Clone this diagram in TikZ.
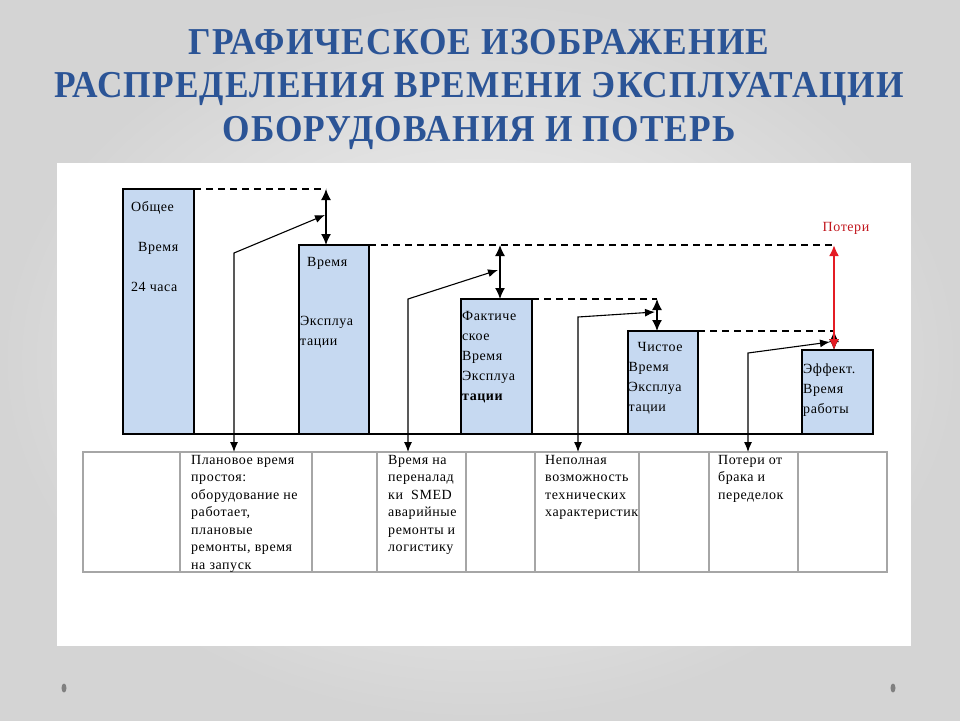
\documentclass[tikz,border=0pt]{standalone}
\usepackage{fontspec}
\setmainfont{Liberation Serif}
\newfontfamily\titlefont[FakeStretch=0.93,LetterSpace=3]{Liberation Serif}
\newfontfamily\diagfont[LetterSpace=4]{Liberation Serif}
\usetikzlibrary{arrows.meta,positioning,calc}

\definecolor{titleblue}{RGB}{43,84,150}
\definecolor{barblue}{RGB}{198,217,241}
\definecolor{gridgray}{RGB}{166,166,166}
\definecolor{lossred}{RGB}{228,28,36}
\definecolor{bgouter}{RGB}{212,212,212}
\definecolor{bginner}{RGB}{245,245,245}

\begin{document}
\begin{tikzpicture}[x=1pt, y=-1pt,
    bar/.style={rectangle, draw, line width=1.3pt, fill=barblue, anchor=south west, inner sep=0, outer sep=0},
    bartext/.style={inner sep=0, align=left, font=\diagfont\fontsize{14}{20}\selectfont},
    cell/.style={rectangle, draw=gridgray, line width=1.2pt, minimum height=120pt, anchor=north west, inner sep=0, outer sep=0},
    celltext/.style={inner sep=0, align=left, font=\diagfont\fontsize{14}{17.5}\selectfont},
    gap/.style={dash pattern=on 7pt off 5pt, line width=1.2pt},
    span/.style={{Latex[length=11pt,width=10pt]}-{Latex[length=11pt,width=10pt]}, line width=1.4pt},
    feed/.style={{Latex[length=10pt,width=8pt]}-{Latex[length=10pt,width=8pt]}, line width=1.1pt}]
    \useasboundingbox (0,0) rectangle (960,720);
    \shade[inner color=bginner, outer color=bgouter] (0,0) rectangle (960,720);
    \fill[white] (57,163) rectangle (911,646);
    \fill[black!50] (64,688) ellipse (2.5 and 4.5);
    \fill[black!50] (893,688) ellipse (2.5 and 4.5);

    % Title
    \node[font=\titlefont\bfseries\fontsize{38}{43.5}\selectfont, text=titleblue, align=center, inner sep=0, anchor=north] (title) at (479,29)
        {ГРАФИЧЕСКОЕ ИЗОБРАЖЕНИЕ\\РАСПРЕДЕЛЕНИЯ ВРЕМЕНИ ЭКСПЛУАТАЦИИ\\ОБОРУДОВАНИЯ И ПОТЕРЬ};

    % Time bars
    \node[bar, minimum width=71pt, minimum height=245pt] (total_time) at (123,434) {};
    \node[bar, minimum width=70pt, minimum height=189pt] (oper_time) at (299,434) {};
    \node[bar, minimum width=71pt, minimum height=135pt] (actual_time) at (461,434) {};
    \node[bar, minimum width=70pt, minimum height=103pt] (net_time) at (628,434) {};
    \node[bar, minimum width=71pt, minimum height=84pt] (eff_time) at (802,434) {};
    \draw[line width=1.3pt] (total_time.south west) -- (eff_time.south east);

    \node[bartext, below right=12pt and 8pt of total_time.north west] (total_label) {Общее\\[20pt]\hspace*{7pt}Время\\[20pt]24 часа};
    \node[bartext, below right=12pt and 1pt of oper_time.north west] (oper_label) {\hspace*{7pt}Время\\[39pt]Эксплуа\\тации};
    \node[bartext, below right=12pt and 1pt of actual_time.north west] (actual_label) {Фактиче\\ское\\Время\\Эксплуа\\\textbf{тации}};
    \node[bartext, below right=11pt and 0.5pt of net_time.north west] (net_label) {\hspace*{9pt}Чистое\\Время\\Эксплуа\\тации};
    \node[bartext, below right=14pt and 1pt of eff_time.north west] (eff_label) {Эффект.\\Время\\работы};

    % Steps between the bars
    \coordinate (oper_gap) at (326,189);
    \coordinate (actual_gap) at (500,245);
    \coordinate (net_gap) at (657,299);
    \coordinate (eff_gap) at (834,331);
    \coordinate (loss_top) at (834,245);
    \draw[gap] (total_time.north east) -- (oper_gap);
    \draw[gap] (oper_time.north east) -- (loss_top);
    \draw[gap] (actual_time.north east) -- (net_gap);
    \draw[gap, line width=1.8pt] (net_time.north east) -- (eff_gap);
    \draw[span] (oper_gap) -- (oper_gap |- oper_time.north);
    \draw[span] (actual_gap) -- (actual_gap |- actual_time.north);
    \draw[span] (net_gap) -- (net_gap |- net_time.north);
    \draw[span] (eff_gap) -- (eff_gap |- eff_time.north);
    \draw[span, draw=lossred, line width=2.4pt] (loss_top) -- (loss_top |- eff_time.north);
    \node[bartext, text=lossred!85!black, anchor=base] (loss_label) at (846,231.5) {Потери};

    % Loss table
    \foreach \a/\b [count=\i] in {83/180,180/312,312/377,377/466,466/535,535/639,639/709,709/798,798/887} {
        \pgfmathsetmacro\w{\b-\a}
        \node[cell, minimum width=\w pt] (cell\i) at (\a,452) {};
    }
    \node[celltext, below right=3pt and 11pt of cell2.north west] (plan_text) {Плановое время\\простоя:\\оборудование не\\работает,\\плановые\\ремонты, время\\на запуск};
    \node[celltext, below right=3pt and 11pt of cell4.north west] (setup_text) {Время на\\переналад\\ки \ SMED\\аварийные\\ремонты и\\логистику};
    \node[celltext, below right=3pt and 10pt of cell6.north west] (speed_text) {Неполная\\возможность\\технических\\характеристик};
    \node[celltext, below right=3pt and 9pt of cell8.north west] (defect_text) {Потери от\\брака и\\переделок};

    % Links from the table to the steps
    \coordinate (plan_bend) at (234,253);
    \coordinate (plan_end) at (325,215);
    \coordinate (setup_bend) at (408,299);
    \coordinate (setup_end) at (498,270);
    \coordinate (speed_bend) at (578,317);
    \coordinate (speed_end) at (655,312);
    \coordinate (defect_bend) at (748,353);
    \coordinate (defect_end) at (830,342);
    \draw[feed] (plan_bend |- cell2.north) -- (plan_bend) -- (plan_end);
    \draw[feed] (setup_bend |- cell4.north) -- (setup_bend) -- (setup_end);
    \draw[feed] (speed_bend |- cell6.north) -- (speed_bend) -- (speed_end);
    \draw[feed] (defect_bend |- cell8.north) -- (defect_bend) -- (defect_end);
\end{tikzpicture}
\end{document}
